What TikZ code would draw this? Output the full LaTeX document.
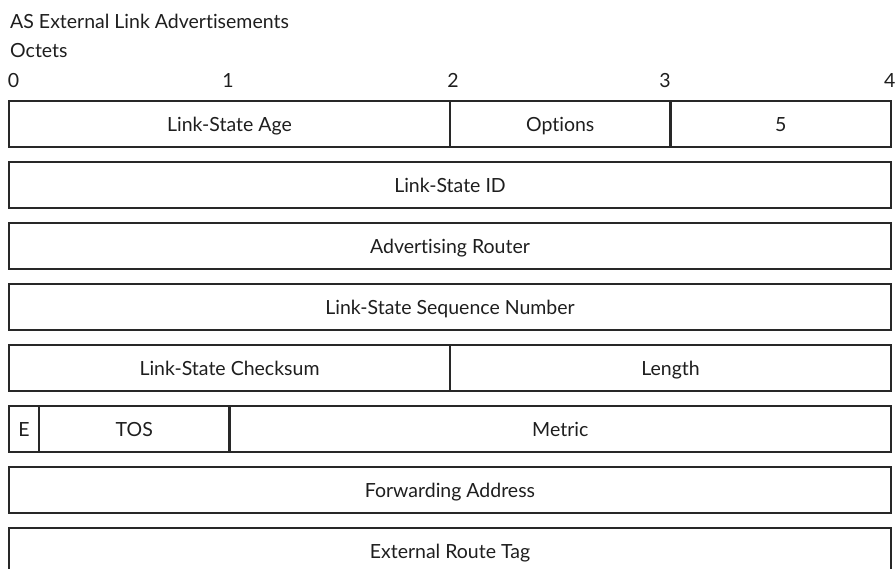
\documentclass[tikz,border=0pt]{standalone}
\usepackage{fontspec}
\setmainfont{Lato}[Ligatures={NoCommon,NoRare}]
\usetikzlibrary{positioning}
\definecolor{linecolor}{RGB}{40,40,40}
\definecolor{textcolor}{RGB}{30,30,30}

\begin{document}
\begin{tikzpicture}[
    x=1pt, y=1pt,
    field/.style={rectangle, draw=linecolor, line width=2.6pt, minimum height=46pt, inner sep=0pt, outer sep=0pt, text height=14pt, text depth=0pt, font=\fontsize{19.5}{22}\selectfont, text=textcolor},
    label/.style={inner sep=0pt, font=\fontsize{19.5}{22}\selectfont, text=textcolor},
    node distance=0pt
]
    \useasboundingbox (0,0) rectangle (896,-568);

    % Heading
    \node[label, anchor=base west] (title) at (10,-28) {AS External Link Advertisements};
    \node[label, anchor=base west] (octets) at (10,-57) {Octets};

    % Octet numbers
    \node[label, anchor=base] (oct0) at (13.5,-87) {0};
    \node[label, anchor=base] (oct1) at (228,-87) {1};
    \node[label, anchor=base] (oct2) at (453,-87) {2};
    \node[label, anchor=base] (oct3) at (665,-87) {3};
    \node[label, anchor=base east] (oct4) at (895.5,-87) {4};

    % Row 1
    \node[field, minimum width=441pt, anchor=north west] (age) at (9,-101) {Link-State Age};
    \node[field, minimum width=220.5pt, right=of age] (options) {Options};
    \node[field, minimum width=220.5pt, right=of options] (type) {5};

    % Row 2-4
    \node[field, minimum width=882pt, anchor=north west] (lsid) at (9,-162) {Link-State ID};
    \node[field, minimum width=882pt, anchor=north west] (advrouter) at (9,-223) {Advertising Router};
    \node[field, minimum width=882pt, anchor=north west] (seqnum) at (9,-284) {Link-State Sequence Number};

    % Row 5
    \node[field, minimum width=441pt, anchor=north west] (checksum) at (9,-345) {Link-State Checksum};
    \node[field, minimum width=441pt, right=of checksum] (length) {Length};

    % Row 6
    \node[field, minimum width=30pt, anchor=north west] (ebit) at (9,-406) {E};
    \node[field, minimum width=190.5pt, right=of ebit] (tos) {TOS};
    \node[field, minimum width=661.5pt, right=of tos] (metric) {Metric};

    % Row 7-8
    \node[field, minimum width=882pt, anchor=north west] (fwdaddr) at (9,-467) {Forwarding Address};
    \node[field, minimum width=882pt, anchor=north west] (routetag) at (9,-528) {External Route Tag};

\end{tikzpicture}
\end{document}
